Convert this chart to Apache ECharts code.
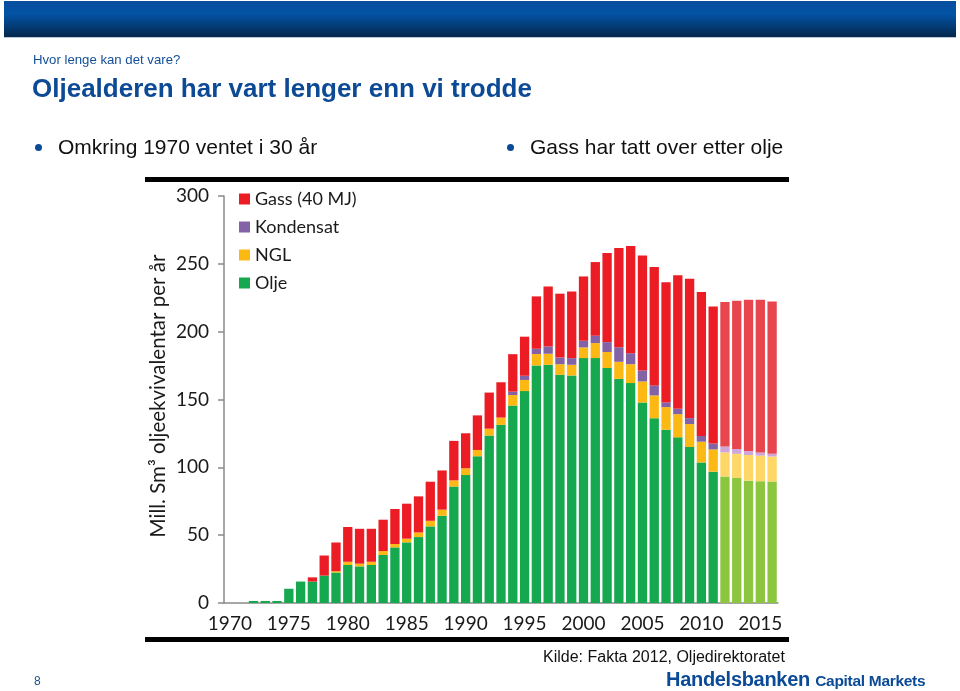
<!DOCTYPE html>
<html>
<head>
<meta charset="utf-8">
<script src="https://cdn.jsdelivr.net/npm/echarts@6/dist/echarts.min.js"></script>
<style>
  html, body { margin:0; padding:0; background:#fff; }
  #page { position:relative; width:960px; height:691px; overflow:hidden; font-family:"Liberation Sans", Arial, sans-serif; }
  #chart { position:absolute; left:0; top:0; width:960px; height:691px; }
  .abs { position:absolute; white-space:nowrap; }
  #band { left:4px; top:1px; width:952px; height:36px; background:linear-gradient(#0a4d9c 0%, #0353a6 35%, #03386f 75%, #07254a 100%); }
  #bandline { left:4px; top:37px; width:952px; height:1px; background:#b8c7d9; }
  .bullet { width:7px; height:7px; border-radius:50%; background:#0b4a97; }
  .rule { background:#000; }
</style>
</head>
<body>
<div id="page">
  <div id="chart"></div>
  <div class="abs" id="band"></div>
  <div class="abs" id="bandline"></div>
  <div class="abs" style="left:33px; top:52px; font-size:13.2px; color:#134f96;">Hvor lenge kan det vare?</div>
  <div class="abs" style="left:32px; top:73px; font-size:26px; font-weight:bold; color:#0d4a96;">Oljealderen har vart lenger enn vi trodde</div>
  <div class="abs bullet" style="left:35px; top:144px;"></div>
  <div class="abs" style="left:58px; top:135px; font-size:21px; color:#111;">Omkring 1970 ventet i 30 år</div>
  <div class="abs bullet" style="left:507px; top:144px;"></div>
  <div class="abs" style="left:530px; top:135px; font-size:21px; color:#111;">Gass har tatt over etter olje</div>
  <div class="abs rule" style="left:145px; top:177px; width:644px; height:5px;"></div>
  <div class="abs rule" style="left:145px; top:637px; width:644px; height:5px;"></div>
  <div class="abs" style="left:543px; top:648px; font-size:16px; color:#111;">Kilde: Fakta 2012, Oljedirektoratet</div>
  <div class="abs" style="left:34px; top:674px; font-size:12px; color:#1f4f8f;">8</div>
  <div class="abs" style="left:666px; top:668px; font-size:20px; font-weight:bold; color:#0b4a97; letter-spacing:-0.3px;">Handelsbanken <span style="font-size:15.5px;">Capital Markets</span></div>
</div>
<script>
// ---- data (Mill. Sm3 o.e. per year) ----
const years = [1970,1971,1972,1973,1974,1975,1976,1977,1978,1979,1980,1981,1982,1983,1984,1985,1986,1987,1988,1989,1990,1991,1992,1993,1994,1995,1996,1997,1998,1999,2000,2001,2002,2003,2004,2005,2006,2007,2008,2009,2010,2011,2012,2013,2014,2015,2016];
const olje = [0,0,1.5,1.5,1.5,10.5,15.8,15.8,20.2,22.5,28,27,28,35.4,41,44.7,48.6,56.5,64.3,85.8,94.3,108.2,123.4,131.3,145.5,156.2,175.1,175.6,168.2,167.7,180.5,180.5,173.2,165.2,162.1,147.8,136.2,127.7,122.1,115,103.6,96.8,93.3,92.1,90.2,89.8,89.6];
const ngl = [0,0,0,0,0,0,0,0,0,1,2.4,2,2.4,2.9,2.5,2.7,3.4,4.1,4.5,4.6,5,4.6,5.1,5.4,7.8,8.2,8.4,8.1,7.8,7.9,7.9,11.1,11.8,12.6,13.9,15.5,16.8,16.7,17.1,16.9,15.3,16.4,17.7,17.9,18.9,18.8,18.4];
const kondensat = [0,0,0,0,0,0,0,0,0,0,0,0,0,0,0,0,0,0,0,0,0,0,0,0,2.5,3.1,3.9,5.4,5,4.9,4.9,5.4,7.3,10.7,8.1,8.1,7.4,3.4,3.9,4.4,4.2,4.4,4.4,3.5,2.9,2.4,2];
const gass = [0,0,0,0,0,0,0,3.1,14.8,21.1,25.6,25.7,24.3,23.1,25.8,25.8,26.6,28.8,28.9,29.1,25.8,25.5,26.6,26,27.6,28.8,38.6,44.2,47,49.1,47.4,54.3,65.7,73.2,79.1,84.8,87.2,88.7,98.4,102.7,106.1,100.9,106.4,109.3,111.5,112.5,112.3];
const firstForecastYear = 2012;
const yTicks = [0,50,100,150,200,250,300];
const xLabelYears = [1970,1975,1980,1985,1990,1995,2000,2005,2010,2015];
const seriesNames = ['Olje','NGL','Kondensat','Gass (40 MJ)'];
const legendOrder = ['Gass (40 MJ)','Kondensat','NGL','Olje'];

const colors = { 'Olje':'#15a84e', 'NGL':'#fdb913', 'Kondensat':'#8462a6', 'Gass (40 MJ)':'#ec1c24' };
const forecastColors = { 'Olje':'#8cc63f', 'NGL':'#fed766', 'Kondensat':'#cfa6d8', 'Gass (40 MJ)':'#e8464f' };

const chart = echarts.init(document.getElementById('chart'), null, {renderer:'canvas'});
const valuesByName = { 'Olje':olje, 'NGL':ngl, 'Kondensat':kondensat, 'Gass (40 MJ)':gass };
const series = seriesNames.map(name => ({
  name, type:'bar', stack:'total', barCategoryGap:'21%',
  itemStyle:{ color: colors[name] },
  emphasis:{ disabled:true },
  data: valuesByName[name].map((v,i) => years[i] >= firstForecastYear ? { value:v, itemStyle:{ color: forecastColors[name] } } : v)
}));
const font = 'Lato, "Open Sans", sans-serif';
chart.setOption({
  animation:false,
  grid:{ left:224, right:182, top:196, bottom:88, containLabel:false },
  legend:{ data:legendOrder, orient:'vertical', left:234, top:184, itemWidth:11, itemHeight:11, itemGap:8, icon:'rect',
           textStyle:{ fontSize:18, color:'#1a1a1a', fontFamily:font, lineHeight:20 } },
  xAxis:{ type:'category', data:years.map(String),
          axisLine:{ lineStyle:{ color:'#8a8a8a', width:1.5 } }, axisTick:{ show:false },
          axisLabel:{ interval:(i,v)=> xLabelYears.includes(+v), fontSize:19, color:'#1a1a1a', fontFamily:font, margin:11 } },
  yAxis:{ type:'value', min:yTicks[0], max:yTicks[yTicks.length-1], interval:yTicks[1]-yTicks[0],
          splitLine:{ show:false },
          axisLine:{ show:true, lineStyle:{ color:'#8a8a8a', width:1.5 } },
          axisTick:{ show:true, length:6, lineStyle:{ color:'#8a8a8a', width:1.5 } },
          axisLabel:{ fontSize:19, color:'#1a1a1a', fontFamily:font, margin:15 } },
  graphic:[{ type:'text', x:158, y:396, rotation:Math.PI/2,
             style:{ text:'Mill. Sm³ oljeekvivalentar per år', fontSize:20.5, fontFamily:font, fill:'#1a1a1a', align:'center', verticalAlign:'middle' } }],
  series
});
</script>
</body>
</html>
